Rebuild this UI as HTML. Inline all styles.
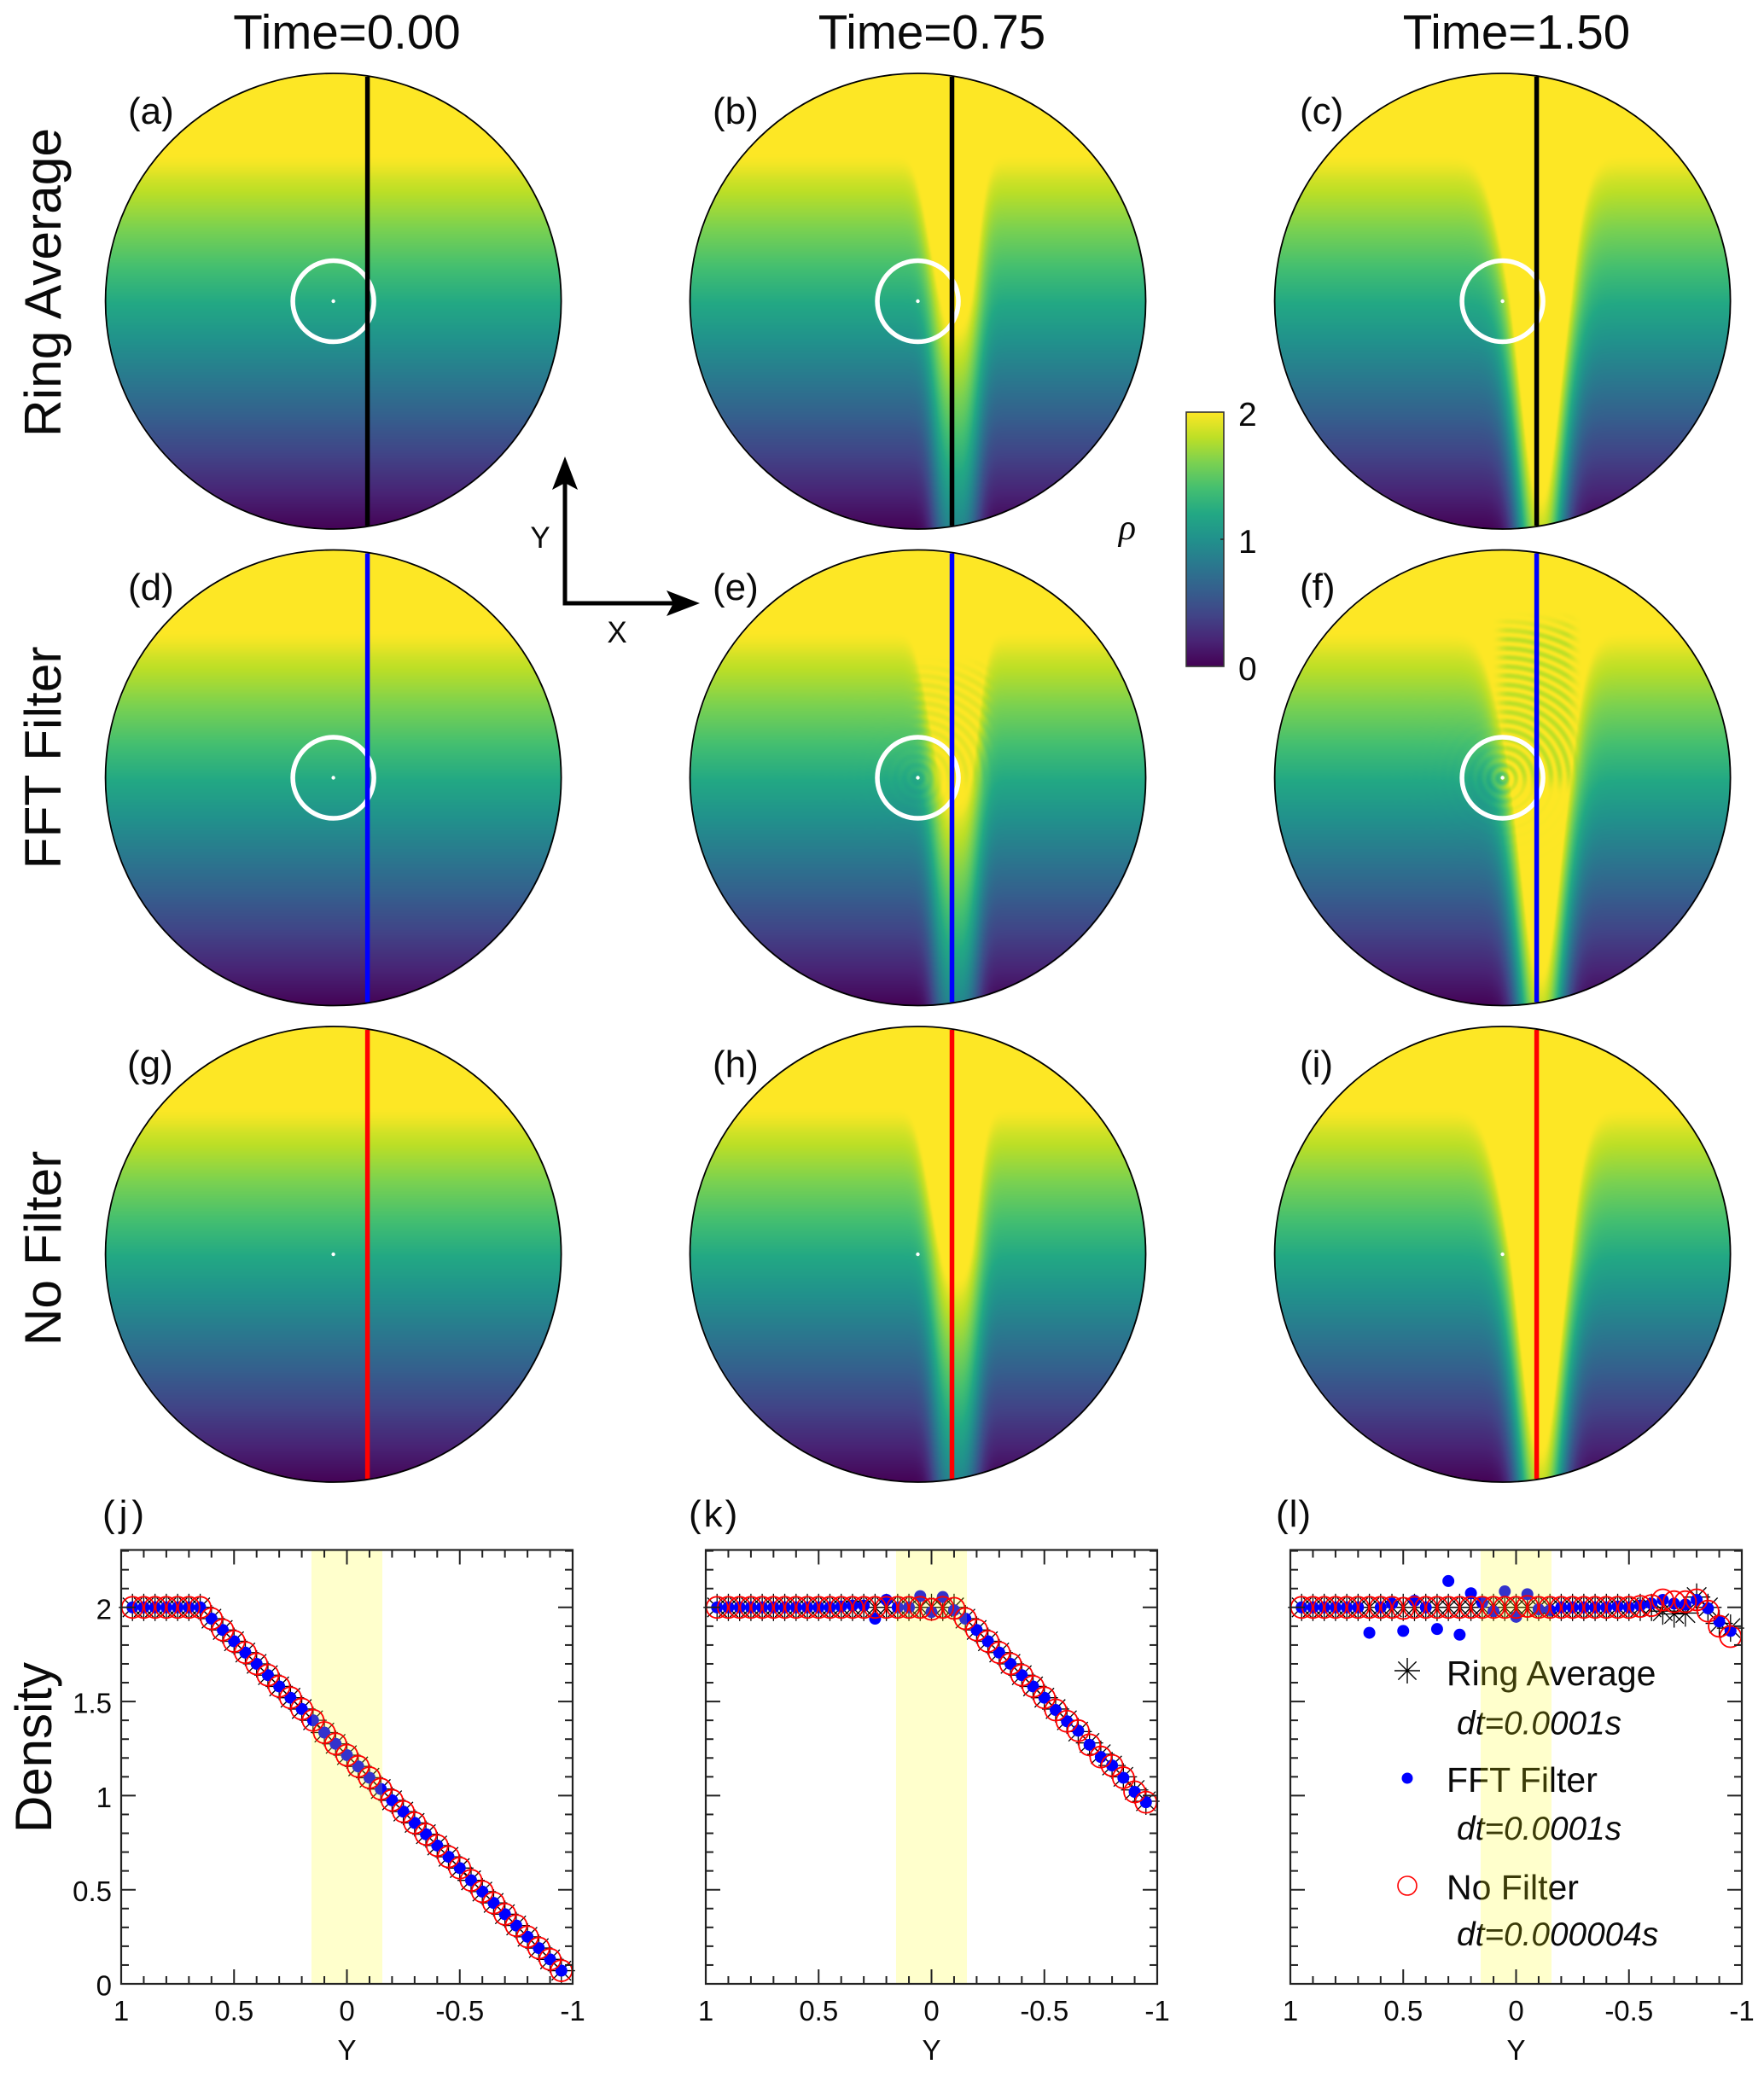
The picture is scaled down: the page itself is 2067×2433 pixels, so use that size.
<!DOCTYPE html>
<html lang="en">
<head>
<meta charset="utf-8">
<title>Density fields and profiles</title>
<style>
html,body{margin:0;padding:0;background:#fff;}
#figure{position:relative;width:2067px;height:2433px;overflow:hidden;background:#fff;font-family:"Liberation Sans",sans-serif;}
canvas{position:absolute;width:534px;height:534px;}
#overlay{position:absolute;left:0;top:0;}
#overlay text{font-family:"Liberation Sans",sans-serif;fill:#0a0a0a;}
</style>
</head>
<body>
<div id="figure">
<canvas id="d00" width="534" height="534"></canvas>
<canvas id="d01" width="534" height="534"></canvas>
<canvas id="d02" width="534" height="534"></canvas>
<canvas id="d10" width="534" height="534"></canvas>
<canvas id="d11" width="534" height="534"></canvas>
<canvas id="d12" width="534" height="534"></canvas>
<canvas id="d20" width="534" height="534"></canvas>
<canvas id="d21" width="534" height="534"></canvas>
<canvas id="d22" width="534" height="534"></canvas>
<svg id="overlay" width="2067" height="2433" viewBox="0 0 2067 2433" xmlns="http://www.w3.org/2000/svg">
  <defs>
    <linearGradient id="cbGrad" x1="0" y1="1" x2="0" y2="0"></linearGradient>
  </defs>
  <g id="diskMarks"></g>
  <g id="plots"></g>

  <text x="406.5" y="57" font-size="56.5" text-anchor="middle">Time=0.00</text>
  <text x="1092" y="57" font-size="56.5" text-anchor="middle">Time=0.75</text>
  <text x="1777" y="57" font-size="56.5" text-anchor="middle">Time=1.50</text>

  <text x="71" y="331" font-size="60.5" text-anchor="middle" transform="rotate(-90 71 331)">Ring Average</text>
  <text x="71" y="888" font-size="60.5" text-anchor="middle" transform="rotate(-90 71 888)">FFT Filter</text>
  <text x="71" y="1463" font-size="60.5" text-anchor="middle" transform="rotate(-90 71 1463)">No Filter</text>
  <text x="60" y="2048" font-size="60" text-anchor="middle" transform="rotate(-90 60 2048)">Density</text>

  <text x="150" y="145" font-size="44">(a)</text>
  <text x="835" y="145" font-size="44">(b)</text>
  <text x="1523" y="145" font-size="44">(c)</text>
  <text x="150" y="703" font-size="44">(d)</text>
  <text x="835" y="703" font-size="44">(e)</text>
  <text x="1523" y="703" font-size="44">(f)</text>
  <text x="149" y="1262" font-size="44">(g)</text>
  <text x="835" y="1262" font-size="44">(h)</text>
  <text x="1523" y="1262" font-size="44">(i)</text>
  <text x="120" y="1789" font-size="44" letter-spacing="5">(j)</text>
  <text x="807" y="1789" font-size="44" letter-spacing="3">(k)</text>
  <text x="1495" y="1789" font-size="44" letter-spacing="1">(l)</text>

  <g>
    <line x1="662" y1="707" x2="662" y2="560" stroke="#000" stroke-width="5"/>
    <polygon points="662,535 677,574 662,566 647,574" fill="#000"/>
    <line x1="659.5" y1="707" x2="795" y2="707" stroke="#000" stroke-width="5"/>
    <polygon points="820,707 781,692 789,707 781,722" fill="#000"/>
    <text x="633" y="642" font-size="35" text-anchor="middle">Y</text>
    <text x="723" y="753" font-size="35" text-anchor="middle">X</text>
  </g>

  <g>
    <rect x="1390" y="483" width="44" height="298" fill="url(#cbGrad)" stroke="#333" stroke-width="1.6"/>
    <line x1="1430" y1="632" x2="1434" y2="632" stroke="#222" stroke-width="1.5"/>
    <text x="1451" y="499" font-size="39">2</text>
    <text x="1451" y="648" font-size="39">1</text>
    <text x="1451" y="797" font-size="39">0</text>
    <text x="1321" y="632" font-size="42" text-anchor="middle" font-style="italic" style="font-family:'Liberation Serif',serif">ρ</text>
  </g>
</svg>
</div>
<script>
// ---------- chart data ----------
const yCoords = [0.95,0.9,0.85,0.8,0.75,0.7,0.65,0.6,0.55,0.5,0.45,0.4,0.35,0.3,0.25,0.2,0.15,0.1,0.05,0,-0.05,-0.1,-0.15,-0.2,-0.25,-0.3,-0.35,-0.4,-0.45,-0.5,-0.55,-0.6,-0.65,-0.7,-0.75,-0.8,-0.85,-0.9,-0.95];

const ringJ = [2,2,2,2,2,2,2,1.94,1.88,1.82,1.76,1.70,1.64,1.58,1.52,1.46,1.40,1.335,1.275,1.215,1.155,1.095,1.035,0.975,0.915,0.855,0.795,0.735,0.675,0.615,0.55,0.49,0.43,0.37,0.31,0.25,0.19,0.13,0.07];
const fftJ  = [2,2,2,2,2,2,2,1.94,1.88,1.82,1.76,1.70,1.64,1.58,1.52,1.46,1.40,1.335,1.275,1.215,1.155,1.095,1.035,0.975,0.915,0.855,0.795,0.735,0.675,0.615,0.55,0.49,0.43,0.37,0.31,0.25,0.19,0.13,0.07];
const noneJ = [2,2,2,2,2,2,2,1.94,1.88,1.82,1.76,1.70,1.64,1.58,1.52,1.46,1.40,1.335,1.275,1.215,1.155,1.095,1.035,0.975,0.915,0.855,0.795,0.735,0.675,0.615,0.55,0.49,0.43,0.37,0.31,0.25,0.19,0.13,0.07];

const ringK = [2,2,2,2,2,2,2,2,2,2,2,2,2,2,2,2,2,2,2,2,2,2,1.94,1.88,1.82,1.76,1.70,1.64,1.58,1.52,1.46,1.40,1.34,1.28,1.22,1.16,1.10,1.03,0.97];
const fftK  = [2,2,2,2,2,2,2,2,2,2,2,2.005,2.01,2.01,1.94,2.04,2.0,2.0,2.06,1.975,2.055,1.985,1.94,1.88,1.82,1.76,1.70,1.64,1.58,1.52,1.455,1.395,1.345,1.27,1.205,1.16,1.095,1.02,0.965];
const noneK = [2,2,2,2,2,2,2,2,2,2,2,2,2,2,2,2,2,2,2,1.99,2,1.995,1.94,1.88,1.82,1.76,1.70,1.64,1.58,1.52,1.455,1.395,1.345,1.27,1.205,1.16,1.095,1.02,0.965];

const ringL = [2,2,2,2,2,2,2,2,2,2,2,2,2,2,2,2,2,2,2,2,2,2,2,2,2,2,2,2,2,2,2,2,1.98,1.965,1.97,2.055,2.0,1.915,1.89];
const fftL  = [2,2,2,2,2,2,1.865,2,2.02,1.875,2.035,2,1.885,2.14,1.855,2.075,2.025,1.98,2.085,1.95,2.07,1.99,1.985,2,2,2,2,2,2.005,2,2.01,2.02,2.04,2.02,2.015,2.04,1.995,1.925,1.875];
const noneL = [2,2,2,2,2,2,2,2,2,1.995,2,2,2,2,2,2,2,2,2,2,2.005,2,2,2,2,2,2,2,2,2,2.005,2.01,2.04,2.03,2.03,2.04,1.98,1.90,1.845];

const xTickLabels = ['1','0.5','0','-0.5','-1'];
const xTickValues = [1,0.5,0,-0.5,-1];
const yTickLabels = ['0','0.5','1','1.5','2'];
const yTickValues = [0,0.5,1,1.5,2];
const bandRange = [0.157,-0.157];
const minorStep = 0.1;

// field parameters for the disks, per time column
const timeValues = [0,0.75,1.5];
const wakeHalfWidth = [0.116,0.116,0.14];
const wakeExponent = [3,3,2.4];
const wakeTaper = [0,0.1,0.22];
const rippleStrength = [0,0.07,0.2];

const viridisStops = [[68,1,84],[72,36,117],[65,68,135],[53,95,141],[42,120,142],[33,145,140],[34,168,132],[68,191,112],[122,209,81],[189,223,38],[253,231,37]];

// ---------- layout ----------
const NS = 'http://www.w3.org/2000/svg';
const colX = [390.6,1075.5,1760.6];
const rowY = [353,911.5,1470];
const R = 267;
const rowLine = ['#000000','#0000ff','#ff0000'];
const rowLineName = ['black','blue','red'];
const panelLetters = ['a','b','c','d','e','f','g','h','i'];

function mk(tag, attrs, parent, txt){
  const el = document.createElementNS(NS, tag);
  for(const k in attrs){ el.setAttribute(k, attrs[k]); }
  if(txt !== undefined){ el.textContent = txt; }
  parent.appendChild(el);
  return el;
}

function viridis(t){
  t = Math.max(0, Math.min(1, t));
  const p = t*(viridisStops.length-1), i = Math.min(viridisStops.length-2, Math.floor(p)), f = p-i;
  const a = viridisStops[i], b = viridisStops[i+1];
  return [a[0]+(b[0]-a[0])*f, a[1]+(b[1]-a[1])*f, a[2]+(b[2]-a[2])*f];
}

(function(){
  const g = document.getElementById('cbGrad');
  viridisStops.forEach(function(c,i){
    mk('stop',{offset:(i/(viridisStops.length-1)),'stop-color':'rgb('+c.join(',')+')'},g);
  });
})();

// density profile Y -> rho, interpolated from the measured t=0 series
function profile(Y){
  const step = yCoords[0]-yCoords[1];
  const p = (yCoords[0]-Y)/step;
  let v;
  if(p <= 0){ v = ringJ[0]; }
  else {
    const n = ringJ.length-1;
    if(p >= n){ v = Math.max(0, ringJ[n]+(ringJ[n]-ringJ[n-1])*(p-n)); }
    else {
      const i = Math.floor(p), f = p-i;
      v = ringJ[i]+(ringJ[i+1]-ringJ[i])*f;
    }
  }
  const x = ringJ[0]-v, s = 0.16;
  return x<s ? ringJ[0]-(2*x*x/s-x*x*x/(s*s)) : v;
}
function sstep(a,b,x){ const t = Math.max(0,Math.min(1,(x-a)/(b-a))); return t*t*(3-2*t); }

function field(X,Y,col,row){
  const t = timeValues[col];
  const centre = 0.165-0.03*Math.max(Y,0);
  const d = Math.abs(X-centre);
  const a = wakeHalfWidth[col]*(1+wakeTaper[col]*Y);
  const u = t>0 ? Math.exp(-Math.pow(d/a,wakeExponent[col])) : 0;
  let rho = profile(Y+t*u);
  if(row===1 && rippleStrength[col]>0){
    const r = Math.sqrt(X*X+Y*Y), amp = rippleStrength[col];
    const ph = 2*Math.PI*r/0.04;
    const top = col===2 ? 0.74 : 0.55;
    const wedge = (1-sstep(0.12,0.2,Math.abs(X-0.15)))*sstep(0.0,0.12,Y+0.08)*(1-sstep(top-0.14,top,Y));
    rho -= amp*wedge*(0.5+0.5*Math.sin(ph));
    const core = Math.exp(-r/0.08)*(0.55+0.45*sstep(-0.1,0.1,X));
    rho += amp*1.1*core*Math.sin(ph+1.2);
  }
  return rho;
}

for(let row=0;row<3;row++){
  for(let col=0;col<3;col++){
    const cv = document.getElementById('d'+row+col);
    cv.style.left = (colX[col]-R)+'px';
    cv.style.top = (rowY[row]-R)+'px';
    const ctx = cv.getContext('2d');
    const im = ctx.createImageData(534,534);
    const D = im.data;
    for(let py=0;py<534;py++){
      for(let px=0;px<534;px++){
        const dx = px+0.5-267, dy = py+0.5-267;
        const dist = Math.sqrt(dx*dx+dy*dy);
        const k = (py*534+px)*4;
        if(dist>R+1){ D[k+3]=0; continue; }
        const c = viridis(field(dx/R,-dy/R,col,row)/2);
        D[k]=c[0]; D[k+1]=c[1]; D[k+2]=c[2];
        D[k+3]=255*Math.max(0,Math.min(1,R+0.5-dist));
      }
    }
    ctx.putImageData(im,0,0);
  }
}

(function(){
  const host = document.getElementById('diskMarks');
  for(let row=0;row<3;row++){
    for(let col=0;col<3;col++){
      const cx = colX[col], cy = rowY[row], letter = panelLetters[row*3+col];
      if(row<2){
        const ring = mk('circle',{cx:cx,cy:cy,r:47.5,fill:'none',stroke:'#fff','stroke-width':5.5},host);
        
        
      }
      const dot = mk('circle',{cx:cx,cy:cy,r:2.2,fill:'#fff'},host);
      
      
      const lx = cx+40;
      const half = Math.sqrt(R*R-40*40)-1;
      const ln = mk('line',{x1:lx,x2:lx,y1:cy-half,y2:cy+half,stroke:rowLine[row],'stroke-width':5.5},host);
      
      
      const rim = mk('circle',{cx:cx,cy:cy,r:R,fill:'none',stroke:'#000','stroke-width':1.8},host);
      
      
    }
  }
})();

const plotLeft = [142,827,1512];
const plotWidth = 529;
const plotTop = 1816.5;
const plotBottom = 2325;
const yUnit = 220.6;
const plotSeries = [
  {id:'j',ring:ringJ,fft:fftJ,none:noneJ},
  {id:'k',ring:ringK,fft:fftK,none:noneK},
  {id:'l',ring:ringL,fft:fftL,none:noneL}
];
function drawStar(parent,x,y,r,w){
  const g = mk('g',{stroke:'#000','stroke-width':w},parent);
  const q = r*0.7071;
  mk('line',{x1:x-r,y1:y,x2:x+r,y2:y},g);
  mk('line',{x1:x,y1:y-r,x2:x,y2:y+r},g);
  mk('line',{x1:x-q,y1:y-q,x2:x+q,y2:y+q},g);
  mk('line',{x1:x-q,y1:y+q,x2:x+q,y2:y-q},g);
  return g;
}
plotSeries.forEach(function(s,pi){
  const left = plotLeft[pi];
  const xScale = function(v){ return left+(1-v)/2*plotWidth; };
  const yScale = function(v){ return plotBottom-v*yUnit; };
  const root = mk('g',{},document.getElementById('plots'));
  
  

  const gRing = mk('g',{},root);
  
  
  yCoords.forEach(function(v,i){
    const st = drawStar(gRing,xScale(v),yScale(s.ring[i]),16,1.3);
    
    
  });
  const gFft = mk('g',{fill:'#0000ff'},root);
  
  
  yCoords.forEach(function(v,i){
    const c = mk('circle',{cx:xScale(v),cy:yScale(s.fft[i]),r:7},gFft);
    
    
  });

  if(pi===2){
    const lg = mk('g',{},root);
    
    
    const st = drawStar(lg,1649,1958,15,1.4);
    
    
    const bd = mk('circle',{cx:1649,cy:2084,r:6.5,fill:'#0000ff'},lg);
    
    
    const rc = mk('circle',{cx:1649,cy:2210,r:11,fill:'none',stroke:'#ff0000','stroke-width':1.6},lg);
    
    
    const t1 = mk('text',{x:1695,y:1975,'font-size':41},lg,'Ring Average');
    
    
    const t2 = mk('text',{x:1707,y:2032.5,'font-size':38.8,'font-style':'italic'},lg,'dt=0.0001s');
    
    
    const t3 = mk('text',{x:1695,y:2100,'font-size':41},lg,'FFT Filter');
    
    
    const t4 = mk('text',{x:1707,y:2156,'font-size':38.8,'font-style':'italic'},lg,'dt=0.0001s');
    
    
    const t5 = mk('text',{x:1695,y:2226,'font-size':41},lg,'No Filter');
    
    
    const t6 = mk('text',{x:1707,y:2280,'font-size':38.8,'font-style':'italic'},lg,'dt=0.000004s');
    
    
  }

  const band = mk('rect',{x:xScale(bandRange[0]),y:plotTop,width:xScale(bandRange[1])-xScale(bandRange[0]),height:plotBottom-plotTop,fill:'rgba(255,255,0,0.2)'},root);
  
  

  const gNone = mk('g',{fill:'none',stroke:'#ff0000','stroke-width':1.8},root);
  
  
  yCoords.forEach(function(v,i){
    const c = mk('circle',{cx:xScale(v),cy:yScale(s.none[i]),r:12.5},gNone);
    
    
  });

  const ticks = mk('g',{stroke:'#222','stroke-width':2},root);
  
  
  const nx = Math.round(2/minorStep);
  for(let i=1;i<nx;i++){
    const v = 1-i*minorStep, x = xScale(v);
    const len = (i%5===0)?17:9;
    mk('line',{x1:x,x2:x,y1:plotBottom,y2:plotBottom-len},ticks);
    mk('line',{x1:x,x2:x,y1:plotTop,y2:plotTop+len},ticks);
  }
  const ny = Math.round(2.3/minorStep);
  for(let i=1;i<=ny;i++){
    const v = i*minorStep, y = yScale(v);
    if(y<=plotTop+1) continue;
    const len = (i%5===0)?17:9;
    mk('line',{x1:left,x2:left+len,y1:y,y2:y},ticks);
    mk('line',{x1:left+plotWidth,x2:left+plotWidth-len,y1:y,y2:y},ticks);
  }
  const frame = mk('rect',{x:left,y:plotTop,width:plotWidth,height:plotBottom-plotTop,fill:'none',stroke:'#222','stroke-width':2.2},root);
  
  

  xTickValues.forEach(function(v,i){
    const t = mk('text',{x:xScale(v),y:2368,'font-size':33,'text-anchor':'middle'},root,xTickLabels[i]);
    
    
  });
  if(pi===0){
    yTickValues.forEach(function(v,i){
      const t = mk('text',{x:131,y:yScale(v)+13.5,'font-size':33,'text-anchor':'end'},root,yTickLabels[i]);
      
      
    });
  }
  const xt = mk('text',{x:left+plotWidth/2,y:2414,'font-size':33,'text-anchor':'middle'},root,'Y');
  
  
});
</script>
</body>
</html>
